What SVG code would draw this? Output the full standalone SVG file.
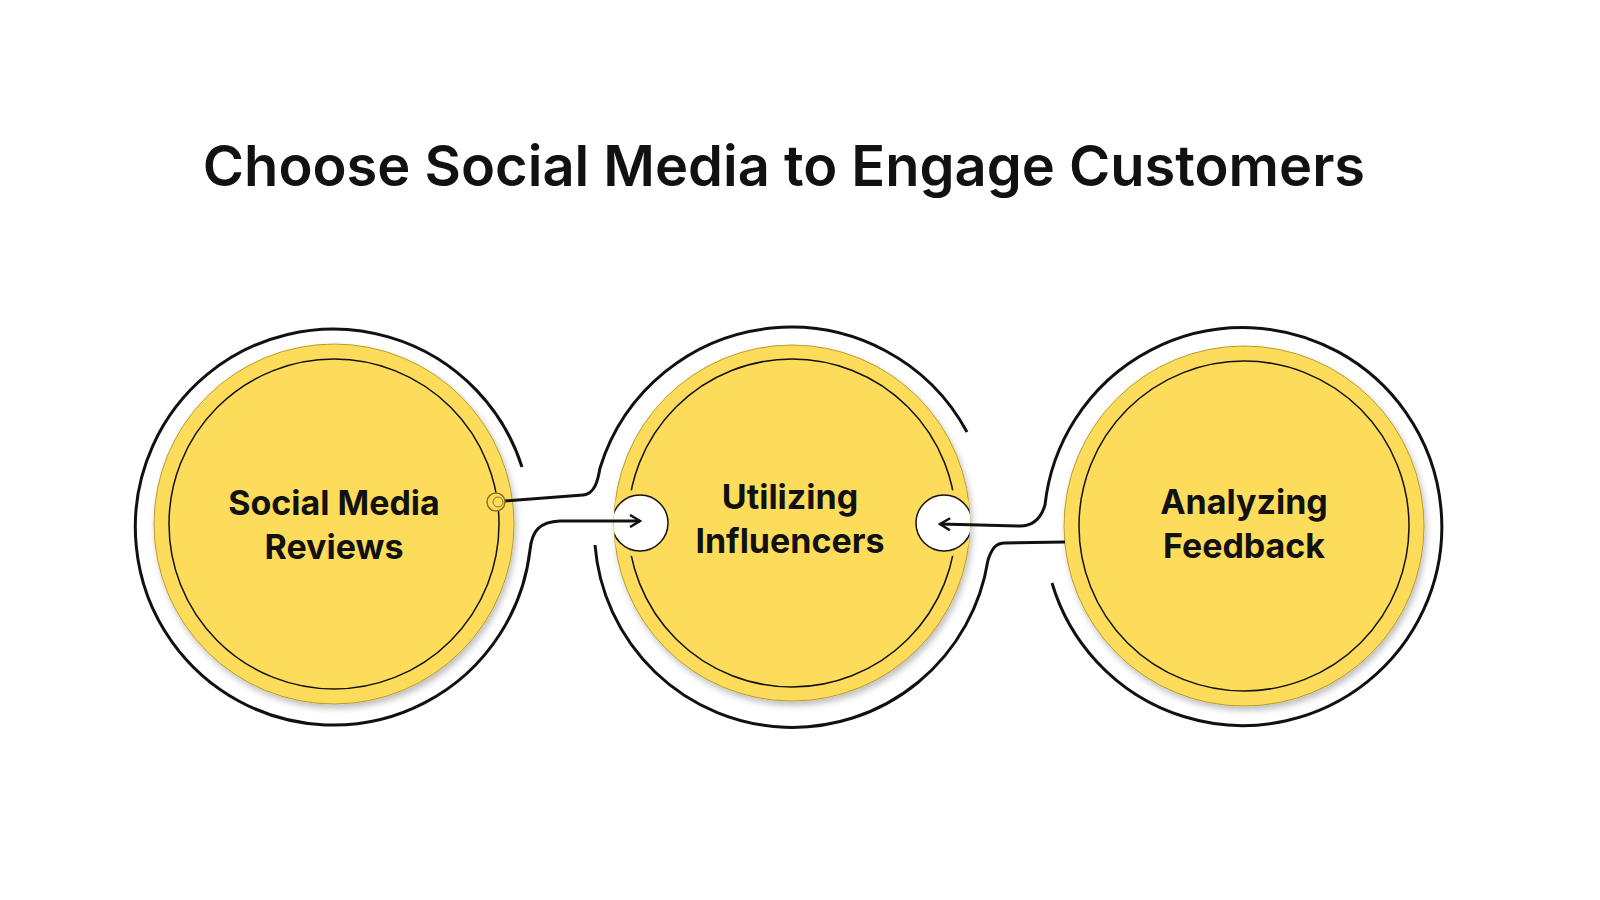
<svg xmlns="http://www.w3.org/2000/svg" width="1600" height="900" viewBox="0 0 1600 900">
<style>
.ring{fill:none;stroke:#111;stroke-width:3}
.yc{fill:#FDDC5C;stroke:#b89c2a;stroke-width:1}
.inner{fill:none;stroke:#111;stroke-width:1.5}
.lbl{font-family:Inter,"Liberation Sans",sans-serif;font-weight:700;font-size:34px;fill:#111;text-anchor:middle}
.title{font-family:Inter,"Liberation Sans",sans-serif;font-weight:600;font-size:56px;fill:#111;text-anchor:middle}
.con{fill:none;stroke:#111;stroke-width:3}
</style>
<defs>
<filter id="sh" x="-10%" y="-10%" width="120%" height="120%"><feDropShadow dx="2" dy="4" stdDeviation="3" flood-color="#000" flood-opacity="0.25"/></filter>
<marker id="ar" markerWidth="14" markerHeight="14" refX="12" refY="7" orient="auto" markerUnits="userSpaceOnUse"><path d="M2,1 L12,7 L2,13" fill="none" stroke="#111" stroke-width="2.5"/></marker>
<clipPath id="c2"><circle cx="792" cy="523" r="178"/></clipPath>
</defs>
<rect width="1600" height="900" fill="#fff"/>
<text class="title" x="784" y="186">Choose Social Media to Engage Customers</text>

<g id="node1">
<circle class="yc" cx="334" cy="524" r="180" filter="url(#sh)"/>
<circle class="inner" cx="334" cy="524" r="165"/>
<text class="lbl" x="334" y="515">Social Media</text>
<text class="lbl" x="334" y="559">Reviews</text>
</g>

<g id="node2">
<circle class="yc" cx="792" cy="523" r="178" filter="url(#sh)"/>
<circle class="inner" cx="792" cy="523" r="164"/>
<g clip-path="url(#c2)">
<circle cx="640" cy="523" r="34" fill="#FDDC5C"/>
<circle cx="640" cy="523" r="28" fill="#fff" stroke="#111" stroke-width="1.5"/>
<circle cx="944" cy="523" r="34" fill="#FDDC5C"/>
<circle cx="944" cy="523" r="28" fill="#fff" stroke="#111" stroke-width="1.5"/>
</g>
<text class="lbl" x="790" y="509">Utilizing</text>
<text class="lbl" x="790" y="553">Influencers</text>
</g>

<g id="node3">
<circle class="yc" cx="1244" cy="526" r="180" filter="url(#sh)"/>
<circle class="inner" cx="1244" cy="526" r="165"/>
<text class="lbl" x="1244" y="514">Analyzing</text>
<text class="lbl" x="1244" y="558">Feedback</text>
</g>

<g id="connectors">
<path class="con" d="M522,467 A198,198 0 1 0 530,550 C532,530 540,522 560,521 L640,521" marker-end="url(#ar)"/>
<path class="con" d="M505,501 L583,495 C595,494 598,480 600,468 A200,200 0 0 1 967,432"/>
<path class="con" d="M595,545 A198,198 0 0 0 988,560 C992,548 996,543 1005,543 L1065,542"/>
<path class="con" d="M1052,583 A199,199 0 1 0 1045,505 C1042,515 1035,526 1020,526 L940,524" marker-end="url(#ar)"/>
<circle cx="496" cy="502" r="9" fill="#FDDC5C" stroke="#8a7420" stroke-width="1.5"/>
<circle cx="498" cy="502" r="5" fill="none" stroke="#8a7420" stroke-width="1"/>
</g>
</svg>
